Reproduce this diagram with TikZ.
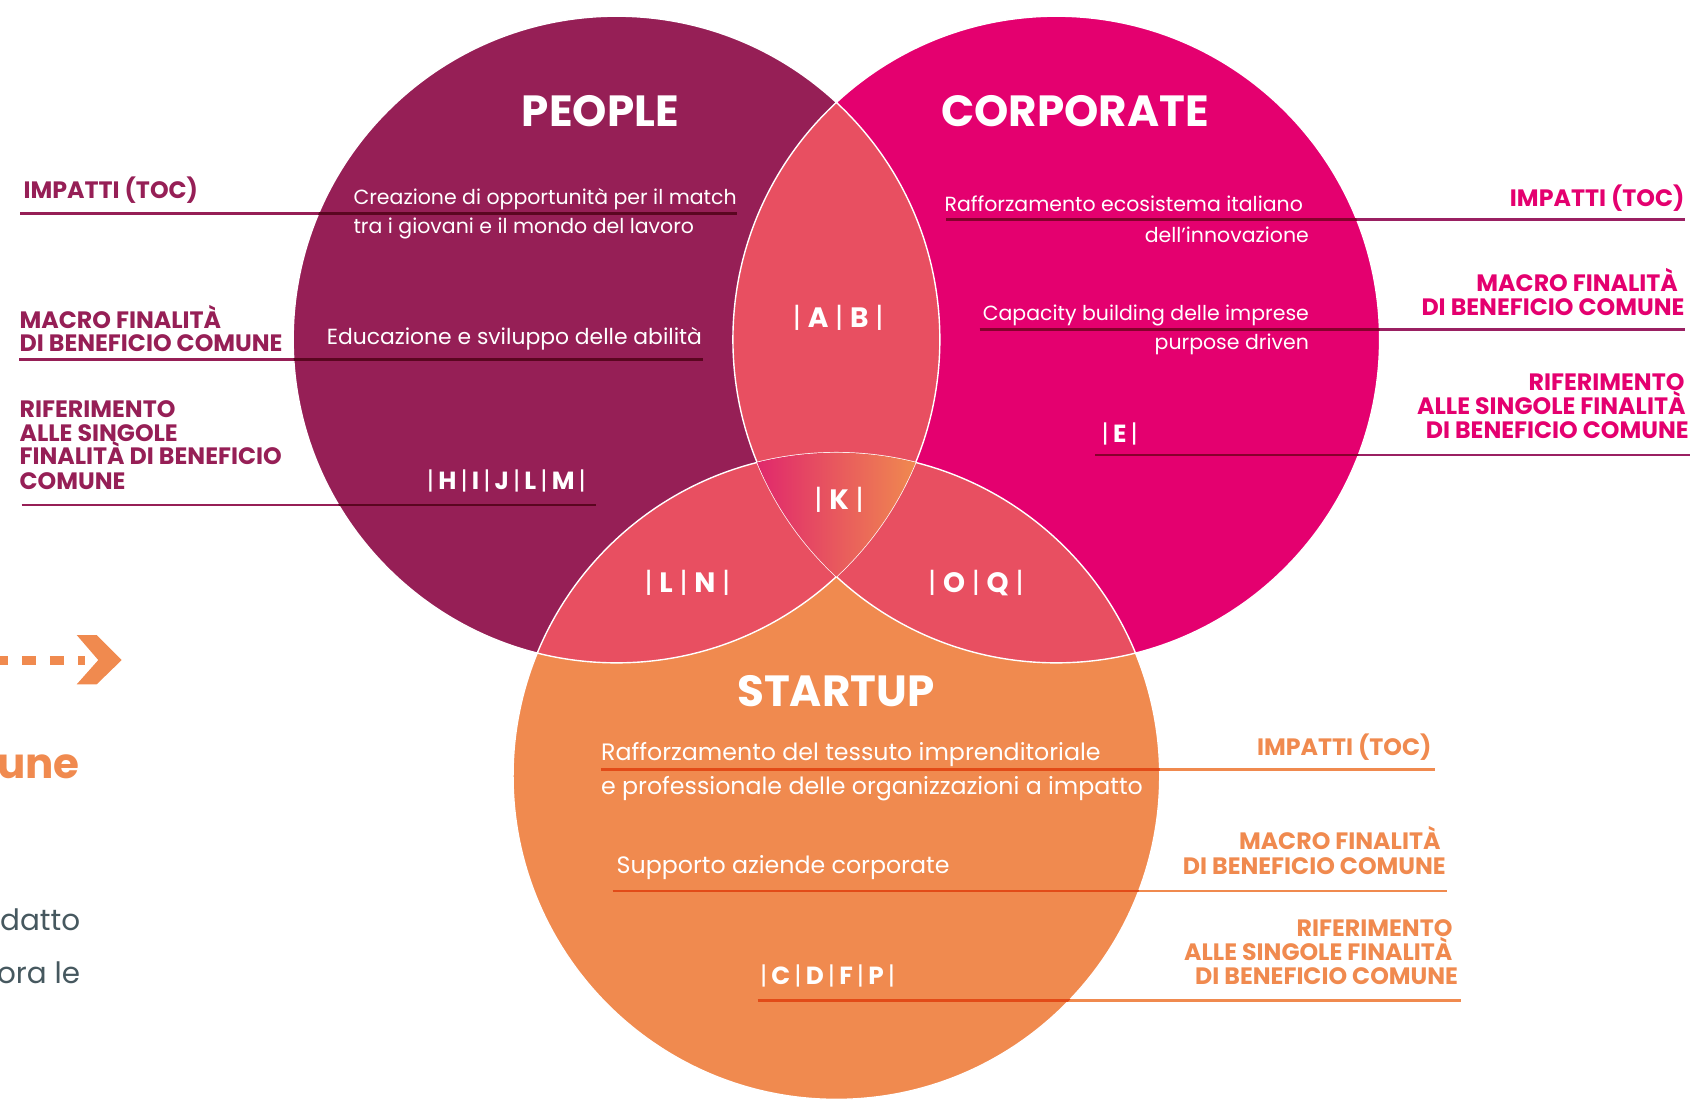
\documentclass[tikz,border=0pt]{standalone}
\usepackage{fontspec}
\setmainfont{Poppins}
\definecolor{plum}{HTML}{961F56}
\definecolor{plumdark}{HTML}{5A0620}
\definecolor{mag}{HTML}{E4006F}
\definecolor{magline}{HTML}{9A2062}
\definecolor{magdark}{HTML}{86002D}
\definecolor{orng}{HTML}{F08A4F}
\definecolor{orngdark}{HTML}{E24B18}
\definecolor{coral}{HTML}{E84F61}
\definecolor{kpink}{HTML}{E0286C}
\definecolor{kmid}{HTML}{E95C66}
\definecolor{slate}{HTML}{46585F}
\newcommand\lettr[1]{\,\textbf{#1}\,|}
\newcommand\lettrw[1]{\hspace{0.24em}\textbf{#1}\hspace{0.24em}|}
\begin{document}
\begin{tikzpicture}[x=1pt,y=-1pt,
  ttl/.style={font=\fontsize{40.5}{40.5}\selectfont\bfseries, text=white, inner sep=0},
  ptxt/.style={font=\fontsize{19}{19}\selectfont, text=white, inner sep=0},
  stxt/.style={font=\fontsize{22}{22}\selectfont, text=white, inner sep=0},
  lab/.style={font=\fontsize{22}{22}\selectfont\bfseries, inner sep=0},
  codetxt/.style={font=\fontsize{23}{23}\selectfont, text=white, inner sep=0},
  ovtxt/.style={font=\fontsize{26}{26}\selectfont, text=white, inner sep=0},
  rulel/.style={line width=2.6},
  outl/.style={draw=white, line width=1.3}]
\useasboundingbox (0,0) rectangle (1568,1020);
\coordinate (P) at (572,315);
\coordinate (C) at (980,315);
\coordinate (S) at (776,720);
% circles
\fill[plum] (P) circle (300);
\fill[mag] (C) circle (300);
\fill[orng] (S) circle (300);
\begin{scope}
  \clip (P) circle (300);
  \fill[coral] (C) circle (300);
  \fill[coral] (S) circle (300);
\end{scope}
\begin{scope}
  \clip (C) circle (300);
  \fill[coral] (S) circle (300);
\end{scope}
\draw[outl] (P) circle (300) (C) circle (300) (S) circle (300);
\begin{scope}
  \clip (P) circle (300);
  \clip (C) circle (300);
  \clip (S) circle (300);
  \shade[left color=kpink, middle color=kmid, right color=orng] (702,410) rectangle (851,545);
\end{scope}

% ---- rules: people
\coordinate (pa1) at (19,198);   \coordinate (pa2) at (684,198);
\coordinate (pb1) at (18,333.5); \coordinate (pb2) at (652,333.5);
\coordinate (pc1) at (20,468.5); \coordinate (pc2) at (553,468.5);
\draw[rulel, plum] (pa1) -- (pa2) (pb1) -- (pb2) (pc1) -- (pc2);
\begin{scope}
  \clip (P) circle (300);
  \draw[rulel, plumdark] (pa1) -- (pa2) (pb1) -- (pb2) (pc1) -- (pc2);
\end{scope}
% ---- rules: corporate
\coordinate (ca1) at (878,204);   \coordinate (ca2) at (1563,204);
\coordinate (cb1) at (909,306);   \coordinate (cb2) at (1563,306);
\coordinate (cc1) at (1016,422.2);\coordinate (cc2) at (1568,422.2);
\draw[rulel, magline] (ca1) -- (ca2) (cb1) -- (cb2) (cc1) -- (cc2);
\begin{scope}
  \clip (C) circle (300);
  \draw[rulel, magdark] (ca1) -- (ca2) (cb1) -- (cb2) (cc1) -- (cc2);
\end{scope}
% ---- rules: startup
\coordinate (sa1) at (557.5,714); \coordinate (sa2) at (1331.4,714);
\coordinate (sb1) at (568.5,826.6);\coordinate (sb2) at (1342.8,826.6);
\coordinate (sc1) at (703,928);   \coordinate (sc2) at (1355.5,928);
\draw[rulel, orng] (sa1) -- (sa2) (sb1) -- (sb2) (sc1) -- (sc2);
\begin{scope}
  \clip (S) circle (300);
  \draw[rulel, orngdark] (sa1) -- (sa2) (sb1) -- (sb2) (sc1) -- (sc2);
\end{scope}

% ---- titles
\node[ttl, anchor=base] (tpeople) at (557,117.5) {PEOPLE};
\node[ttl, anchor=base] (tcorp) at (997.5,117.5) {CORPORATE};
\node[ttl, anchor=base] (tstart) at (775.5,655.7) {STARTUP};

% ---- people texts
\node[ptxt, anchor=base west] (p1a) at (327.8,189.3) {Creazione di opportunità per il match};
\node[ptxt, anchor=base west] (p1b) at (327.8,217) {tra i giovani e il mondo del lavoro};
\node[ptxt, anchor=base west, font=\fontsize{20.3}{20.3}\selectfont] (p2) at (303,320) {Educazione e sviluppo delle abilità};
\node[codetxt, anchor=base west] (p3) at (395.9,454) {|\lettr{H}\lettr{I}\lettr{J}\lettr{L}\lettr{M}};

% ---- corporate texts
\node[ptxt, anchor=base east] (c1a) at (1209,196.4) {Rafforzamento ecosistema italiano};
\node[ptxt, anchor=base east] (c1b) at (1214.6,225) {dell’innovazione};
\node[ptxt, anchor=base east] (c2a) at (1214.6,297) {Capacity building delle imprese};
\node[ptxt, anchor=base east] (c2b) at (1214.6,324.7) {purpose driven};
\node[codetxt, anchor=base west] (c3) at (1022,410.7) {|\lettr{E}};

% ---- overlap codes
\node[ovtxt, anchor=base west] (ab) at (735.5,304) {|\lettrw{A}\lettrw{B}};
\node[ovtxt, anchor=base] (k) at (778.5,473) {|\lettrw{K}};
\node[ovtxt, anchor=base west] (ln) at (597.8,550) {|\lettrw{L}\lettrw{N}};
\node[ovtxt, anchor=base west] (oq) at (861,550) {|\lettrw{O}\lettrw{Q}};

% ---- startup texts
\node[stxt, anchor=base west] (s1a) at (557.5,706) {Rafforzamento del tessuto imprenditoriale};
\node[stxt, anchor=base west] (s1b) at (557.5,737) {e professionale delle organizzazioni a impatto};
\node[stxt, anchor=base west] (s2) at (572,810.3) {Supporto aziende corporate};
\node[codetxt, anchor=base west] (s3) at (705,913) {|\lettr{C}\lettr{D}\lettr{F}\lettr{P}};

% ---- left labels (people)
\node[lab, text=plum, anchor=base west] (lp1) at (21.7,184) {IMPATTI (TOC)};
\node[lab, text=plum, anchor=base west] (lp2a) at (18,304.6) {MACRO FINALITÀ};
\node[lab, text=plum, anchor=base west] (lp2b) at (18,326.3) {DI BENEFICIO COMUNE};
\node[lab, text=plum, anchor=base west] (lp3a) at (18,387.5) {RIFERIMENTO};
\node[lab, text=plum, anchor=base west] (lp3b) at (18,409.8) {ALLE SINGOLE};
\node[lab, text=plum, anchor=base west] (lp3c) at (18,431.4) {FINALITÀ DI BENEFICIO};
\node[lab, text=plum, anchor=base west] (lp3d) at (18,454) {COMUNE};

% ---- right labels (corporate)
\node[lab, text=mag, anchor=base east] (lc1) at (1563,191.7) {IMPATTI (TOC)};
\node[lab, text=mag, anchor=base east] (lc2a) at (1557,270.6) {MACRO FINALITÀ};
\node[lab, text=mag, anchor=base east] (lc2b) at (1563,292.9) {DI BENEFICIO COMUNE};
\node[lab, text=mag, anchor=base east] (lc3a) at (1563,362.5) {RIFERIMENTO};
\node[lab, text=mag, anchor=base east] (lc3b) at (1564,385) {ALLE SINGOLE FINALITÀ};
\node[lab, text=mag, anchor=base east] (lc3c) at (1567,406.7) {DI BENEFICIO COMUNE};

% ---- right labels (startup)
\node[lab, text=orng, anchor=base east] (ls1) at (1328.3,700.5) {IMPATTI (TOC)};
\node[lab, text=orng, anchor=base east] (ls2a) at (1336.7,788.6) {MACRO FINALITÀ};
\node[lab, text=orng, anchor=base east] (ls2b) at (1341.6,811) {DI BENEFICIO COMUNE};
\node[lab, text=orng, anchor=base east] (ls3a) at (1347.8,869) {RIFERIMENTO};
\node[lab, text=orng, anchor=base east] (ls3b) at (1347.8,890.7) {ALLE SINGOLE FINALITÀ};
\node[lab, text=orng, anchor=base east] (ls3c) at (1353,913) {DI BENEFICIO COMUNE};

% ---- cut-off elements on the left
\coordinate (dstart) at (-5.5,612.4);
\coordinate (dend) at (79,612.4);
\draw[orng, line width=8.4, dash pattern=on 13.2 off 12.7] (dstart) -- (dend);
\fill[orng] (71.2,589.2) -- (89.7,589.2) -- (112.9,612.4) -- (89.7,634.9) -- (71.2,634.9) -- (91.2,612.4) -- cycle;
\node[font=\fontsize{39}{39}\selectfont\bfseries, text=orng, anchor=base east, inner sep=0] (une) at (74.2,722) {une};
\node[font=\fontsize{27.3}{27.3}\selectfont, text=slate, anchor=base east, inner sep=0] (datto) at (74.6,863) {datto};
\node[font=\fontsize{27.3}{27.3}\selectfont, text=slate, anchor=base east, inner sep=0] (orale) at (74.6,912.4) {ora le};
\end{tikzpicture}
\end{document}
